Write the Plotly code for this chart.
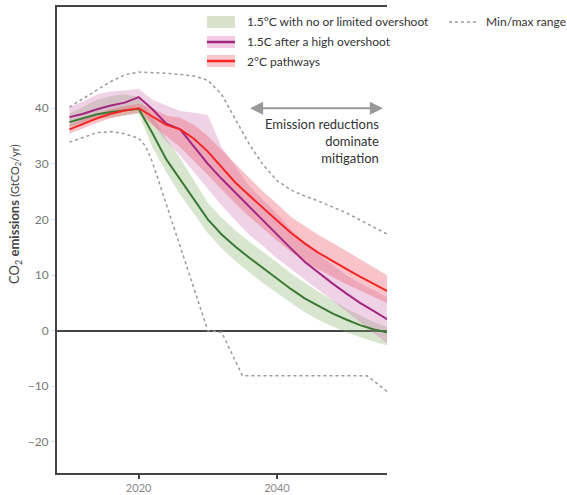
import plotly.graph_objects as go

# ---------------- data ----------------
years = [2010, 2012, 2014, 2016, 2018, 2020, 2022, 2024, 2026, 2028, 2030, 2032,
         2034, 2036, 2038, 2040, 2042, 2044, 2046, 2048, 2050, 2052, 2054, 2056]

green_med = [37.5, 38.2, 38.9, 39.3, 39.6, 39.9, 35.5, 30.8, 27.2, 23.5, 20.0, 17.3,
             15.1, 13.1, 11.2, 9.3, 7.5, 5.8, 4.4, 3.1, 2.0, 1.0, 0.2, -0.3]
green_hi = [39.0, 40.2, 41.5, 42.2, 42.5, 42.0, 38.5, 34.5, 31.0, 27.0, 23.0, 20.3,
            18.0, 16.0, 14.2, 12.3, 10.3, 8.6, 7.0, 5.5, 4.0, 2.8, 1.5, 0.6]
green_lo = [36.6, 37.3, 38.0, 38.4, 38.7, 39.0, 33.0, 28.5, 24.5, 21.0, 17.5, 14.8,
            12.5, 10.5, 8.5, 6.7, 5.0, 3.3, 1.9, 0.8, -0.3, -1.2, -2.0, -2.7]

purple_med = [38.4, 39.0, 39.8, 40.5, 41.0, 42.0, 39.8, 37.2, 36.2, 33.0, 30.0, 27.3,
              24.8, 22.3, 19.8, 17.2, 14.8, 12.4, 10.4, 8.5, 6.7, 5.0, 3.5, 2.0]
purple_hi = [40.2, 41.2, 42.5, 43.0, 43.2, 43.5, 41.5, 40.5, 39.5, 39.2, 38.8, 33.0,
             29.5, 26.0, 23.5, 21.0, 18.3, 15.8, 13.7, 11.8, 10.0, 8.5, 7.2, 6.0]
purple_lo = [36.8, 37.5, 38.5, 39.0, 39.5, 40.5, 37.2, 34.0, 31.5, 28.5, 25.5, 22.5,
             19.8, 17.2, 15.2, 13.0, 11.0, 9.2, 7.3, 5.5, 3.5, 1.5, -0.5, -2.4]

red_med = [36.2, 37.2, 38.2, 39.0, 39.6, 40.0, 38.5, 37.0, 36.2, 34.5, 32.2, 29.5,
           26.6, 24.3, 22.0, 19.8, 17.6, 15.7, 14.0, 12.5, 11.1, 9.7, 8.4, 7.1]
red_hi = [37.0, 38.0, 39.0, 39.8, 40.4, 40.8, 40.0, 38.7, 38.3, 37.0, 35.0, 32.5,
          30.0, 27.5, 25.0, 22.8, 20.5, 18.8, 17.2, 15.8, 14.3, 12.8, 11.3, 9.9]
red_lo = [35.4, 36.4, 37.4, 38.2, 38.8, 39.2, 37.0, 35.0, 33.0, 30.5, 28.0, 25.5,
          22.8, 20.5, 18.3, 16.2, 14.2, 12.5, 11.0, 9.7, 8.4, 7.2, 6.0, 4.9]

max_years = [2010, 2012, 2014, 2016, 2018, 2020, 2024, 2028, 2030, 2032, 2034, 2036,
             2038, 2040, 2042, 2044, 2046, 2048, 2050, 2052, 2054, 2056]
max_vals = [40.2, 41.8, 43.3, 44.8, 46.0, 46.5, 46.3, 45.8, 45.0, 42.5, 38.0, 33.5,
            29.8, 27.0, 25.3, 24.2, 23.3, 22.3, 21.2, 19.9, 18.6, 17.3]

min_years = [2010, 2012, 2014, 2016, 2018, 2020, 2021, 2022, 2024, 2026, 2028, 2030,
             2032, 2035, 2053, 2056]
min_vals = [33.9, 34.8, 35.6, 35.8, 35.4, 34.6, 33.2, 30.3, 22.7, 15.0, 7.3, 0.0,
            -0.3, -8.1, -8.1, -11.0]

x_ticks = [2020, 2040]
y_ticks = [-20, -10, 0, 10, 20, 30, 40]

series_names = ["1.5°C with no or limited overshoot", "1.5C after a high overshoot", "2°C pathways"]
minmax_name = "Min/max range"
note_text = "Emission reductions<br>dominate<br>mitigation"

# ---------------- styling ----------------
FONT = "Lato, 'Open Sans', sans-serif"
W, H = 567, 495
ML, MR, MT, MB = 57, 180, 7, 22
PW, PH = W - ML - MR, H - MT - MB


def px(x):
    return (x - ML) / PW


def py(y):
    return (H - MB - y) / PH


GREEN_LINE, GREEN_FILL = "#3b7a33", "rgba(125,170,95,0.30)"
PURPLE_LINE, PURPLE_FILL = "#a3267f", "rgba(205,105,175,0.30)"
RED_LINE, RED_FILL = "#f52525", "rgba(235,75,90,0.33)"

fig = go.Figure()


def band(hi, lo, color):
    fig.add_trace(go.Scatter(x=years + years[::-1], y=hi + lo[::-1], fill="toself",
                             fillcolor=color, line=dict(width=0), mode="lines",
                             hoverinfo="skip", showlegend=False))


band(green_hi, green_lo, GREEN_FILL)
band(purple_hi, purple_lo, PURPLE_FILL)
band(red_hi, red_lo, RED_FILL)

for xs, ys in [(max_years, max_vals), (min_years, min_vals)]:
    fig.add_trace(go.Scatter(x=xs, y=ys, mode="lines", showlegend=False,
                             line=dict(color="#9a9a9a", width=1.5, dash="3px,3px")))

for ys, col, nm in [(green_med, GREEN_LINE, series_names[0]),
                    (purple_med, PURPLE_LINE, series_names[1]),
                    (red_med, RED_LINE, series_names[2])]:
    fig.add_trace(go.Scatter(x=years, y=ys, mode="lines", name=nm, showlegend=False,
                             line=dict(color=col, width=2)))

shapes = []
annotations = []

# custom legend
leg_rows = [(22, "#d7e1cc", None), (42, "#f2cbe3", PURPLE_LINE), (61, "#f9c8cc", RED_LINE)]
for (yc, fillc, linec), nm in zip(leg_rows, series_names):
    shapes.append(dict(type="rect", xref="paper", yref="paper",
                       x0=px(207), x1=px(235), y0=py(yc - 6), y1=py(yc + 6),
                       fillcolor=fillc, line=dict(width=0), layer="above"))
    if linec:
        shapes.append(dict(type="line", xref="paper", yref="paper",
                           x0=px(207), x1=px(235), y0=py(yc), y1=py(yc),
                           line=dict(color=linec, width=2.5), layer="above"))
    annotations.append(dict(xref="paper", yref="paper", x=px(245), y=py(yc),
                            xanchor="left", yanchor="middle", showarrow=False,
                            text=nm, font=dict(family=FONT, size=12, color="#333")))
shapes.append(dict(type="line", xref="paper", yref="paper",
                   x0=px(449), x1=px(476), y0=py(22), y1=py(22),
                   line=dict(color="#9a9a9a", width=1.5, dash="3px,3px")))
annotations.append(dict(xref="paper", yref="paper", x=px(484), y=py(22),
                        xanchor="left", yanchor="middle", showarrow=False,
                        text=minmax_name, font=dict(family=FONT, size=12, color="#333")))

# double arrow + note
annotations.append(dict(x=2055.3, y=40.0, ax=2035.9, ay=40.0, xref="x", yref="y",
                        axref="x", ayref="y", text=" ", showarrow=True,
                        arrowside="end+start", arrowhead=2, arrowsize=1.3,
                        arrowwidth=2, arrowcolor="#999999", standoff=0, startstandoff=0,
                        font=dict(size=1)))
annotations.append(dict(xref="paper", yref="paper", x=px(381), y=py(114),
                        xanchor="right", yanchor="top", align="right", showarrow=False,
                        text=note_text, font=dict(family=FONT, size=13, color="#333")))

# y title
annotations.append(dict(xref="paper", yref="paper", x=px(15), y=py(214),
                        xanchor="center", yanchor="middle", textangle=-90, showarrow=False,
                        text="CO<sub>2</sub> <b>emissions</b> <span style='font-size:11px'>(GtCO<sub>2</sub>/yr)</span>",
                        font=dict(family=FONT, size=13, color="#444")))

fig.update_layout(
    width=W, height=H,
    margin=dict(l=ML, r=MR, t=MT, b=MB, autoexpand=False),
    paper_bgcolor="white", plot_bgcolor="white",
    showlegend=False,
    shapes=shapes, annotations=annotations,
    font=dict(family=FONT, size=12, color="#777"),
    xaxis=dict(range=[2008.2, 2055.9], tickvals=x_ticks, showgrid=False, zeroline=False,
               automargin=False,
               showline=True, linecolor="#444", linewidth=2, mirror=True,
               ticks="outside", ticklen=4, tickcolor="#444", tickwidth=2,
               ticklabelstandoff=0,
               tickfont=dict(family=FONT, size=11, color="#888")),
    yaxis=dict(range=[-25.6, 58.2], tickvals=y_ticks, showgrid=False, automargin=False,
               zeroline=True, zerolinecolor="#444", zerolinewidth=2,
               showline=True, linecolor="#444", linewidth=2, mirror=False,
               ticks="outside", ticklen=4, tickcolor="#dddddd",
               tickfont=dict(family=FONT, size=12, color="#777")),
)

fig.write_html("out.html")
